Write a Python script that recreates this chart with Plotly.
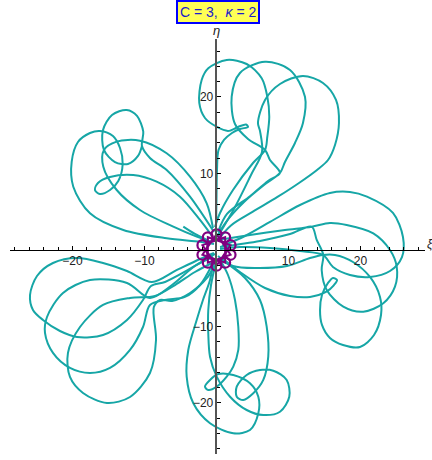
import plotly.graph_objects as go

# ---- traced trajectory strokes (xi, eta) ----
NL_xi = [-0.07, 0.0, 0.07, 0.28, 1.04, 2.15, 3.26, 4.38, 4.10, 2.99, 1.60, 0.07, -1.60, -2.39, -2.06, -1.14, 1.42, 4.19, 6.28, 7.06, 7.33, 7.06, 6.74, 5.07, 2.29, 0.49, -0.21]
NL_eta = [2.88, 6.54, 10.46, 13.07, 14.38, 15.29, 15.82, 16.08, 16.41, 16.08, 15.56, 16.08, 17.25, 19.22, 22.22, 23.75, 24.84, 24.31, 22.44, 20.04, 17.42, 14.81, 13.07, 11.37, 7.84, 4.84, 3.01]

NM_xi = [0.21, 1.46, 4.65, 7.15, 8.82, 7.43, 6.74, 4.38, 2.57, 2.11, 3.26, 6.74, 10.21, 12.29, 12.01, 10.90, 9.51, 8.82, 6.60, 3.82, 1.32, -0.07]
NM_eta = [2.35, 4.71, 7.03, 9.02, 10.07, 11.76, 13.07, 14.51, 16.47, 20.04, 23.14, 24.61, 23.53, 20.04, 16.60, 13.99, 11.50, 10.07, 8.50, 6.27, 3.66, 1.57]

NR_xi = [0.21, 2.50, 4.79, 6.32, 6.04, 5.76, 6.74, 8.82, 12.01, 14.79, 16.60, 17.01, 16.46, 15.49, 13.96, 11.46, 8.47, 5.00, 2.01, 0.21]
NR_eta = [1.83, 5.49, 9.80, 12.81, 15.56, 16.60, 19.61, 21.70, 22.75, 21.83, 19.61, 16.60, 13.73, 11.76, 10.46, 8.76, 6.93, 4.97, 3.20, 1.31]

NWB_xi = [-0.35, -2.29, -6.92, -12.94, -17.57, -19.89, -20.11, -19.24, -17.57, -16.18, -14.38, -13.40, -13.03, -13.64, -14.79, -16.18, -16.88, -16.46, -14.79, -11.56, -8.31, -5.07, -2.29, -0.63]
NWB_eta = [0.78, 1.08, 1.53, 2.61, 4.80, 8.27, 11.54, 14.12, 15.29, 15.56, 14.90, 13.33, 11.24, 9.02, 7.84, 7.32, 7.84, 8.76, 9.54, 9.80, 8.93, 6.97, 3.92, 1.83]

NWC_xi = [-0.49, -1.36, -3.68, -6.92, -10.63, -13.86, -15.63, -15.72, -13.86, -10.63, -6.00, -2.75, -0.63]
NWC_eta = [2.88, 6.10, 9.58, 12.64, 14.29, 14.16, 13.07, 10.89, 7.84, 5.23, 3.05, 1.74, 1.05]

NWA_xi = [-0.35, -3.68, -6.92, -9.24, -10.35, -10.17, -11.04, -12.47, -14.51, -15.76, -15.63, -14.10, -12.29, -10.90, -10.35]
NWA_eta = [2.35, 6.97, 10.46, 12.03, 13.59, 15.46, 17.52, 18.30, 17.65, 15.69, 13.07, 11.50, 11.24, 12.29, 13.59]

END_xi = [-4.61, -2.99, -1.32]
END_eta = [3.05, 2.09, 1.31]

W1_xi = [-0.35, -2.29, -5.49, -8.96, -12.43, -15.76, -19.38, -22.71, -24.93, -25.90, -25.49, -24.10, -21.74, -19.38, -15.76, -12.43, -10.21, -9.10, -7.15, -3.96, -1.60, -0.21]
W1_eta = [-0.39, -1.18, -2.61, -4.18, -2.75, -1.70, -1.05, -1.70, -3.40, -5.88, -7.84, -9.15, -10.59, -11.37, -11.11, -9.15, -6.54, -4.71, -4.18, -2.61, -1.31, -0.52]

W2_xi = [-0.49, -2.99, -6.18, -9.24, -12.43, -17.57, -21.32, -23.54, -23.82, -22.71, -20.35, -17.57, -14.79, -12.01, -10.21, -9.24, -7.15, -4.38, -2.29, -0.63]
W2_eta = [-0.92, -2.09, -4.58, -6.27, -4.31, -3.92, -5.62, -8.76, -10.85, -13.46, -15.42, -16.08, -15.42, -13.07, -10.07, -7.19, -6.54, -6.14, -4.58, -1.96]

W3_xi = [-0.35, -2.99, -5.76, -8.54, -12.01, -15.76, -18.96, -20.63, -20.35, -18.54, -15.21, -12.01, -9.24, -8.40, -8.70, -7.85, -6.18, -3.68, -1.32, -0.35]
W3_eta = [-1.57, -2.88, -4.58, -6.01, -6.27, -7.19, -10.07, -13.46, -16.60, -18.69, -20.0, -19.22, -16.08, -11.76, -7.45, -6.54, -6.67, -5.62, -3.66, -2.09]

S1_xi = [-0.35, -0.90, -1.88, -2.75, -3.92, -4.14, -3.22, -0.90, 2.33, 4.65, 5.81, 5.81, 4.65, 2.33, 0.25, -0.90, -1.60, -1.14, 0.03, 1.42, 2.33, 3.03, 3.03, 2.57, 1.60, 0.35]
S1_eta = [-1.05, -3.92, -6.54, -9.15, -13.07, -16.56, -20.04, -22.65, -23.96, -23.53, -21.35, -19.18, -17.42, -16.34, -16.21, -16.99, -17.87, -18.30, -17.87, -16.56, -15.25, -13.07, -10.03, -6.54, -3.27, -1.05]

S2_xi = [-0.07, -0.76, -1.14, -1.14, -0.90, 0.03, 1.88, 4.19, 6.50, 8.82, 10.11, 9.75, 7.89, 6.04, 4.19, 2.81, 2.81, 3.72, 5.11, 6.50, 7.19, 6.97, 6.04, 3.96, 0.76]
S2_eta = [-1.57, -4.58, -7.84, -10.89, -13.95, -16.56, -19.18, -20.92, -21.57, -21.14, -19.18, -16.99, -15.78, -15.69, -16.34, -17.87, -19.18, -19.61, -18.73, -16.99, -13.95, -10.03, -6.54, -3.66, -1.31]

E1_xi = [0.76, 3.96, 7.43, 11.60, 15.76, 18.54, 20.90, 24.51, 25.90, 25.76, 24.10, 21.32, 18.54, 16.18, 14.79, 11.60, 7.43, 3.26, 0.49]
E1_eta = [0.52, 1.83, 3.66, 5.88, 7.45, 7.58, 6.97, 4.84, 1.70, -0.92, -2.75, -3.53, -3.27, -2.22, -0.65, -0.13, 0.26, 0.39, 0.13]

E2_xi = [0.21, 4.65, 9.51, 13.22, 15.76, 18.08, 21.78, 24.10, 25.03, 24.79, 23.17, 20.39, 17.61, 15.31, 14.61, 14.83, 13.92, 13.22, 10.21, 6.04, 0.49]
E2_eta = [1.31, 1.96, 2.61, 3.05, 3.53, 3.27, 2.18, 0.0, -2.18, -4.80, -6.97, -8.07, -7.41, -5.23, -2.61, -0.65, 1.31, 3.05, 2.09, 1.18, 0.39]

E3_xi = [0.76, 3.26, 6.74, 10.21, 12.99, 15.21, 16.32, 16.74, 16.18, 15.49, 14.65, 14.38, 14.65, 15.76, 17.57, 19.93, 21.88, 22.85, 22.71, 21.32, 18.96, 16.46, 14.79, 12.99, 9.79, 5.63, 2.29, 0.21]
E3_eta = [-1.05, -2.88, -4.97, -6.01, -6.14, -5.49, -4.58, -3.92, -3.66, -4.31, -5.88, -7.84, -9.80, -11.50, -12.42, -12.68, -11.11, -8.50, -6.14, -3.53, -1.57, -0.65, -0.65, -1.05, -2.09, -2.35, -2.09, -0.78]

# ---- small purple rosette: loop centres and the order the path visits them ----
ROS_xi = [0.0, 1.20, 1.95, 1.95, 1.20, 0.0, -1.20, -1.95, -1.95, -1.20]
ROS_eta = [2.05, 1.66, 0.63, -0.63, -1.66, -2.05, -1.66, -0.63, 0.63, 1.66]
ROS_order = [0, 3, 6, 9, 2, 5, 8, 1, 4, 7, 0]

# ---- axes ----
XI_RANGE = [-28.68, 28.96]
ETA_RANGE = [-26.67, 27.58]
MAJOR_TICKS = [-20, -10, 10, 20]
MINOR_TICKS = [v for v in range(-28, 29, 2) if v % 10 != 0]

TEAL = "rgb(22,166,166)"
PURPLE = "rgb(128,0,128)"

strokes = [(NL_xi, NL_eta), (NM_xi, NM_eta), (NR_xi, NR_eta),
           (NWB_xi, NWB_eta), (NWC_xi, NWC_eta), (NWA_xi, NWA_eta), (END_xi, END_eta),
           (W1_xi, W1_eta), (W2_xi, W2_eta), (W3_xi, W3_eta),
           (S1_xi, S1_eta), (S2_xi, S2_eta),
           (E1_xi, E1_eta), (E2_xi, E2_eta), (E3_xi, E3_eta)]

fig = go.Figure()
for sx, sy in strokes:
    fig.add_trace(go.Scatter(x=sx, y=sy, mode="lines",
                             line=dict(color=TEAL, width=2, shape="spline", smoothing=0.9),
                             hoverinfo="skip"))

fig.add_trace(go.Scatter(x=[ROS_xi[k] for k in ROS_order], y=[ROS_eta[k] for k in ROS_order],
                         mode="lines", line=dict(color=PURPLE, width=2), hoverinfo="skip"))
fig.add_trace(go.Scatter(x=ROS_xi, y=ROS_eta, mode="markers",
                         marker=dict(symbol="circle-open", size=10, color=PURPLE,
                                     line=dict(color=PURPLE, width=2.2)),
                         hoverinfo="skip"))

xpos = (0 - XI_RANGE[0]) / (XI_RANGE[1] - XI_RANGE[0])
ypos = (0 - ETA_RANGE[0]) / (ETA_RANGE[1] - ETA_RANGE[0])
tickfont = dict(family="Liberation Sans", size=12, color="#222")

fig.update_layout(
    width=432, height=460,
    margin=dict(l=10, r=7, t=39, b=6),
    plot_bgcolor="white", paper_bgcolor="white",
    showlegend=False,
    xaxis=dict(range=XI_RANGE, anchor="free", position=ypos, showline=True,
               linecolor="black", linewidth=1, ticks="inside", ticklen=4,
               tickcolor="black", tickvals=MAJOR_TICKS, showgrid=False,
               zeroline=False, tickfont=tickfont, automargin=False,
               minor=dict(tickvals=MINOR_TICKS, ticks="inside", ticklen=2.5,
                          tickcolor="black", showgrid=False)),
    yaxis=dict(range=ETA_RANGE, anchor="free", position=xpos, showline=True,
               linecolor="#555", linewidth=1.6, ticks="inside", ticklen=4,
               tickcolor="black", tickvals=MAJOR_TICKS, showgrid=False,
               zeroline=False, tickfont=tickfont, automargin=False,
               minor=dict(tickvals=MINOR_TICKS, ticks="inside", ticklen=2.5,
                          tickcolor="black", showgrid=False)),
)

fig.add_annotation(xref="paper", yref="paper", x=0.5, y=1 + 27 / 415,
                   text="C = 3,  <i>κ</i> = 2", showarrow=False,
                   font=dict(family="Liberation Sans", size=14, color="#1a1acc"),
                   bgcolor="#ffff55", bordercolor="#0000ff", borderwidth=2, borderpad=2,
                   xanchor="center", yanchor="middle")
fig.add_annotation(xref="paper", yref="paper", x=xpos, y=1 + 9 / 415,
                   text="<i>η</i>", showarrow=False,
                   font=dict(family="Liberation Sans", size=13, color="#222"),
                   xanchor="center", yanchor="middle")
fig.add_annotation(xref="paper", yref="paper", x=1.0, y=ypos + 6 / 415,
                   text="<i>ξ</i>", showarrow=False,
                   font=dict(family="Liberation Sans", size=12, color="#222"),
                   xanchor="left", yanchor="middle")

# remove the browser's default 8 px body margin so the figure starts at the window corner
fig.write_html("out.html", config={"displayModeBar": False},
               post_script="document.body.style.margin='0px';")
